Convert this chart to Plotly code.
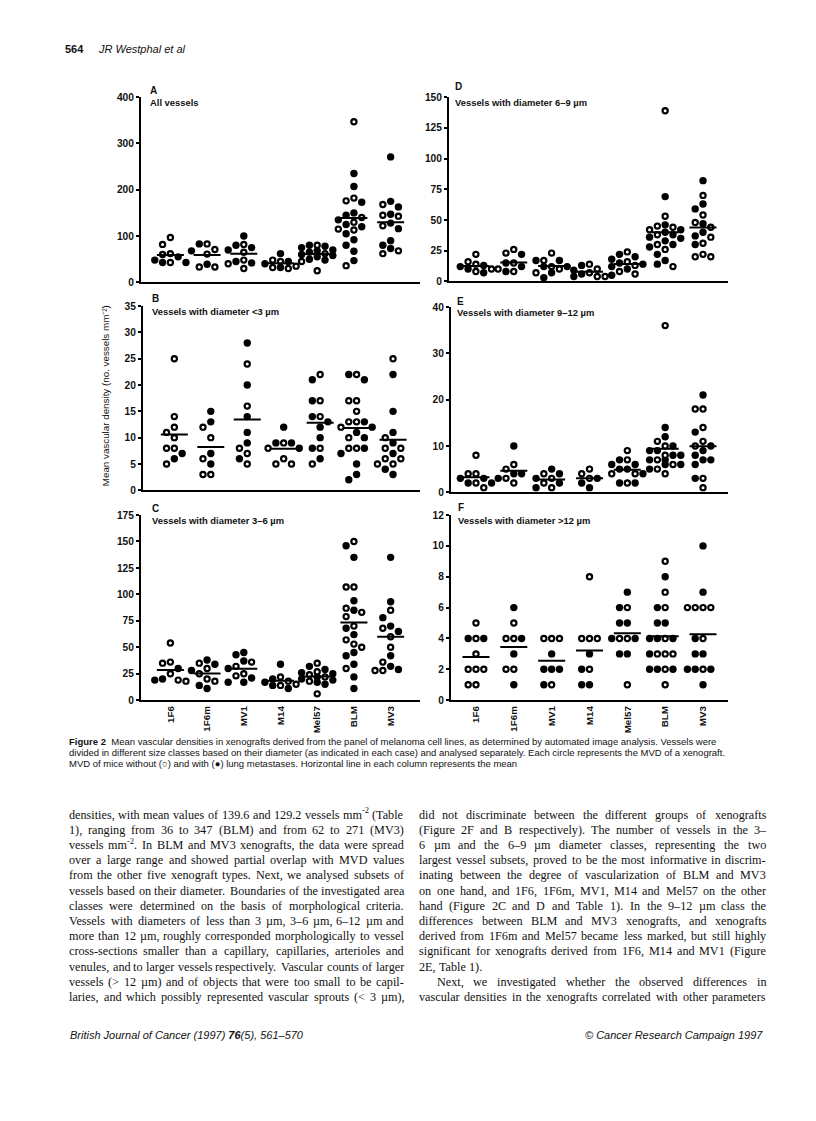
import plotly.graph_objects as go

W, H = 816, 1121

CATS = ["1F6", "1F6m", "MV1", "M14", "Mel57", "BLM", "MV3"]

# MVD per xenograft, one list per cell line (order of CATS)
# *_OPEN = mice without lung metastases, *_FILLED = mice with lung metastases
A_OPEN = [[97, 82, 62, 60, 43], [83, 71, 61, 33, 33], [82, 65, 48, 40, 30], [48, 45, 35, 32, 30],
          [80, 62, 45, 25], [347, 182, 176, 140, 130, 115, 113, 36], [168, 145, 143, 122, 68, 62]]
A_FILLED = [[55, 48, 43, 43], [83, 68, 39], [100, 80, 75, 70, 45, 42], [62, 45, 40, 32],
            [80, 78, 75, 70, 68, 65, 60, 58, 55, 50, 48],
            [235, 207, 173, 150, 145, 135, 125, 120, 105, 92, 80, 67, 47],
            [271, 175, 163, 147, 128, 116, 90, 80, 73]]

B_OPEN = [[25, 14, 12, 11, 10, 8, 8, 5], [12, 10, 6, 3, 3], [24, 16, 8, 7, 5], [9, 8, 6, 5, 5],
          [22, 17, 14, 8, 5], [22, 17, 17, 15, 13, 13, 12, 10, 8, 8], [25, 10, 8, 8, 6, 6, 5, 5]]
B_FILLED = [[7, 6], [15, 13, 7, 5], [28, 20, 14, 11, 9, 6], [12, 9, 9, 8],
            [21, 17, 14, 13, 12, 10, 8, 6], [22, 21, 13, 12, 11, 10, 8, 7, 5, 3, 2],
            [22, 15, 11, 9, 7, 4, 3]]

C_OPEN = [[54, 36, 35, 25, 19, 18], [35, 30, 25, 20, 18], [36, 32, 25, 23], [22, 18, 15, 14],
          [35, 27, 24, 22, 18, 6], [150, 107, 107, 87, 83, 79, 70, 57, 53, 50, 30],
          [85, 68, 60, 50, 36, 28, 28]]
C_FILLED = [[30, 20, 19], [38, 34, 28, 14, 11], [45, 43, 37, 30, 21, 17, 17], [34, 20, 17, 14, 11],
            [32, 29, 26, 25, 22, 20, 19, 17, 15], [146, 135, 94, 85, 68, 62, 45, 42, 34, 22, 11],
            [135, 93, 78, 70, 65, 42, 32, 29]]

D_OPEN = [[22, 16, 14, 10, 8], [26, 23, 15, 10, 8], [23, 17, 12, 10, 7], [14, 10, 7, 4, 4],
          [24, 16, 13, 8, 6], [139, 53, 45, 44, 42, 38, 30, 26, 12], [70, 54, 48, 44, 36, 31, 22, 20, 20]]
D_FILLED = [[13, 12, 10, 7], [22, 15, 12, 8], [17, 17, 12, 12, 7, 3], [13, 9, 6, 4],
            [22, 20, 18, 15, 14, 12, 10, 5], [69, 46, 42, 40, 38, 36, 35, 33, 30, 28, 22, 17, 14],
            [82, 63, 59, 47, 40, 37, 30]]

E_OPEN = [[8, 4, 4, 2, 1], [6, 5, 3, 2], [4, 3, 2, 1], [5, 4, 3], [9, 7, 4, 4, 2],
          [36, 11, 10, 8, 7, 6, 5, 4], [18, 18, 14, 11, 10, 3, 1]]
E_FILLED = [[3, 3, 2, 2], [10, 4, 4, 3], [5, 4, 3, 2, 1], [3, 2, 1], [7, 6, 6, 5, 5, 4, 2, 2],
            [14, 12, 10, 9, 9, 8, 8, 7, 7, 6, 6, 5], [21, 13, 10, 9, 8, 7, 7, 6, 3]]

F_OPEN = [[5, 4, 3, 2, 2, 2, 1, 1], [5, 4, 4, 2, 2], [4, 4, 4, 1], [8, 4, 4, 4, 2], [6, 4, 4, 1],
          [9, 7, 6, 4, 3, 3, 3, 2, 1], [6, 6, 6, 6, 4, 2]]
F_FILLED = [[4, 4], [6, 4, 3, 1], [3, 2, 2, 2, 1], [3, 2, 1, 1], [7, 6, 5, 5, 4, 4, 3, 3],
            [8, 6, 5, 5, 4, 4, 4, 3, 2, 2, 2], [10, 7, 4, 3, 3, 2, 2, 2, 1]]

CAPTION = [
    "<b>Figure 2</b>  Mean vascular densities in xenografts derived from the panel of melanoma cell lines, "
    "as determined by automated image analysis. Vessels were",
    "divided in different size classes based on their diameter (as indicated in each case) and analysed "
    "separately. Each circle represents the MVD of a xenograft.",
    "MVD of mice without (○) and with (●) lung metastases. Horizontal line in each column represents the mean",
]

# body text; a trailing "|" marks the last line of a paragraph (not justified),
# a leading ">" marks an indented first line
LEFT_COL = [
    "densities, with mean values of 139.6 and 129.2 vessels mm<sup>-2</sup> (Table",
    "1), ranging from 36 to 347 (BLM) and from 62 to 271 (MV3)",
    "vessels mm<sup>-2</sup>. In BLM and MV3 xenografts, the data were spread",
    "over a large range and showed partial overlap with MVD values",
    "from the other five xenograft types. Next, we analysed subsets of",
    "vessels based on their diameter. Boundaries of the investigated area",
    "classes were determined on the basis of morphological criteria.",
    "Vessels with diameters of less than 3 µm, 3–6 µm, 6–12 µm and",
    "more than 12 µm, roughly corresponded morphologically to vessel",
    "cross-sections smaller than a capillary, capillaries, arterioles and",
    "venules, and to larger vessels respectively. Vascular counts of larger",
    "vessels (&gt; 12 µm) and of objects that were too small to be capil-",
    "laries, and which possibly represented vascular sprouts (&lt; 3 µm),",
]

RIGHT_COL = [
    "did not discriminate between the different groups of xenografts",
    "(Figure 2F and B respectively). The number of vessels in the 3–",
    "6 µm and the 6–9 µm diameter classes, representing the two",
    "largest vessel subsets, proved to be the most informative in discrim-",
    "inating between the degree of vascularization of BLM and MV3",
    "on one hand, and 1F6, 1F6m, MV1, M14 and Mel57 on the other",
    "hand (Figure 2C and D and Table 1). In the 9–12 µm class the",
    "differences between BLM and MV3 xenografts, and xenografts",
    "derived from 1F6m and Mel57 became less marked, but still highly",
    "significant for xenografts derived from 1F6, M14 and MV1 (Figure",
    "2E, Table 1).|",
    ">Next, we investigated whether the observed differences in",
    "vascular densities in the xenografts correlated with other parameters",
]

SANS = "Liberation Sans, Arial, Helvetica, sans-serif"
SERIF = "Liberation Serif, Times New Roman, serif"
BODY_SIZE = 12.2

# Times / Liberation Serif advance widths (per 1000 em) used to justify the body text
TIMES = {" ": 250, ".": 250, ",": 250, "(": 333, ")": 333, "-": 333, "–": 500, ":": 278, ";": 278,
         ">": 564, "<": 564, "µ": 500}
TIMES.update(zip("abcdefghijklmnopqrstuvwxyz",
                 [444, 500, 444, 500, 444, 333, 500, 500, 278, 278, 500, 278, 778, 500, 500, 500, 500,
                  333, 389, 278, 500, 500, 722, 500, 500, 444]))
TIMES.update(zip("ABCDEFGHIJKLMNOPQRSTUVWXYZ",
                 [722, 667, 667, 722, 611, 556, 722, 722, 333, 389, 722, 611, 889, 722, 722, 556, 722,
                  667, 556, 611, 722, 722, 944, 722, 722, 611]))
TIMES.update({d: 500 for d in "0123456789"})

# panel boxes in page pixels: (left, right, top, bottom)
PANELS = [
    dict(letter="A", sub="All vessels", opn=A_OPEN, fil=A_FILLED, ymax=400, dtick=100,
         box=(133, 412, 85, 272), xr=(-0.8, 6.8), lab=(140, 78.5), labels=False),
    dict(letter="B", sub="Vessels with diameter &lt;3 µm", opn=B_OPEN, fil=B_FILLED, ymax=35, dtick=5,
         box=(135, 412, 296, 482), xr=(-0.86, 6.74), lab=(142, 288.5), labels=False),
    dict(letter="C", sub="Vessels with diameter 3–6 µm", opn=C_OPEN, fil=C_FILLED, ymax=175, dtick=25,
         box=(133, 412, 507, 694), xr=(-0.8, 6.8), lab=(142, 500), labels=True),
    dict(letter="D", sub="Vessels with diameter 6–9 µm", opn=D_OPEN, fil=D_FILLED, ymax=150, dtick=25,
         box=(441, 720, 85, 271), xr=(-0.71, 6.66), lab=(445, 74), labels=False),
    dict(letter="E", sub="Vessels with diameter 9–12 µm", opn=E_OPEN, fil=E_FILLED, ymax=40, dtick=10,
         box=(443, 720, 297, 484), xr=(-0.66, 6.66), lab=(447, 291), labels=False),
    dict(letter="F", sub="Vessels with diameter &gt;12 µm", opn=F_OPEN, fil=F_FILLED, ymax=12, dtick=2,
         box=(443, 720, 507, 694), xr=(-0.66, 6.66), lab=(448, 499), labels=True),
]


def px(x):
    return x / W


def py(y):
    return 1 - y / H


def swarm(opn, fil, ppu_y, step, thresh=7.8):
    """Spread points of one column sideways so markers don't overlap (max two steps out)."""
    pts = sorted([(v, 0) for v in opn] + [(v, 1) for v in fil], key=lambda t: (-t[0], t[1]))
    placed = []
    for v, k in pts:
        best, best_gap = 0, -1.0
        for c in (0, -1, 1, -2, 2):
            gaps = [abs(pv - v) * ppu_y for pv, pc, _ in placed if pc == c]
            gap = min(gaps) if gaps else 1e9
            if gap >= thresh:
                best = c
                break
            if gap > best_gap + 0.5:
                best, best_gap = c, gap
        placed.append((v, best, k))
    return [(v, c * step, k) for v, c, k in placed]


def measure(text, size):
    w, i = 0.0, 0
    while i < len(text):
        if text.startswith("&gt;", i):
            ch, i = ">", i + 4
        elif text.startswith("&lt;", i):
            ch, i = "<", i + 4
        else:
            ch, i = text[i], i + 1
        w += TIMES.get(ch, 500)
    return w * size / 1000


def segments(word):
    """Split a word into (text, is_superscript) pieces."""
    segs, rest = [], word
    while "<sup>" in rest:
        a, b = rest.split("<sup>", 1)
        s, rest = b.split("</sup>", 1)
        if a:
            segs.append((a, False))
        segs.append((s, True))
    if rest:
        segs.append((rest, False))
    return segs


def word_width(word):
    return sum(measure(t, BODY_SIZE * (0.7 if sup else 1)) for t, sup in segments(word))


def body_column(lines, left, right, y0, dy, indent=18):
    out = []
    for j, line in enumerate(lines):
        last = line.endswith("|")
        ind = line.startswith(">")
        line = line.strip("|>")
        words = line.split(" ")
        x0 = left + (indent if ind else 0)
        widths = [word_width(w_) for w_ in words]
        if last or len(words) < 2:
            gap = measure(" ", BODY_SIZE)
        else:
            gap = (right - x0 - sum(widths)) / (len(words) - 1)
        x = x0
        yl = y0 + dy * j
        for w_, wd in zip(words, widths):
            sx = x
            for t, sup in segments(w_):
                size = BODY_SIZE * (0.7 if sup else 1)
                out.append(dict(text=t, x=px(sx), y=py(yl - (4.2 if sup else 0)), xref="paper",
                                yref="paper", xanchor="left", yanchor="middle", showarrow=False,
                                borderpad=0, font=dict(family=SERIF, size=size, color="#111")))
                sx += measure(t, size)
            x += wd + gap
    return out


fig = go.Figure()
annotations = []
layout = {}

for i, p in enumerate(PANELS):
    sfx = "" if i == 0 else str(i + 1)
    xa, ya = "x" + sfx, "y" + sfx
    left, right, top, bot = p["box"]
    ppu_x = (right - left) / (p["xr"][1] - p["xr"][0])
    ppu_y = (bot - top) / p["ymax"]
    step = 7.8 / ppu_x
    half = 13.5 / ppu_x

    ox, oy, fx, fy, mx, my = [], [], [], [], [], []
    for ci in range(len(CATS)):
        for v, dx, k in swarm(p["opn"][ci], p["fil"][ci], ppu_y, step):
            if k == 0:
                ox.append(ci + dx)
                oy.append(v)
            else:
                fx.append(ci + dx)
                fy.append(v)
        vals = p["opn"][ci] + p["fil"][ci]
        m = sum(vals) / len(vals)
        mx += [ci - half, ci + half, None]
        my += [m, m, None]

    fig.add_trace(go.Scatter(x=fx, y=fy, mode="markers", xaxis=xa, yaxis=ya, showlegend=False,
                             cliponaxis=False,
                             marker=dict(size=7.4, color="black", line=dict(width=0))))
    fig.add_trace(go.Scatter(x=ox, y=oy, mode="markers", xaxis=xa, yaxis=ya, showlegend=False,
                             cliponaxis=False,
                             marker=dict(size=5.2, color="white", line=dict(color="black", width=2.2))))
    fig.add_trace(go.Scatter(x=mx, y=my, mode="lines", line=dict(color="black", width=2),
                             xaxis=xa, yaxis=ya, showlegend=False, hoverinfo="skip"))

    layout["xaxis" + sfx] = dict(
        domain=[px(left), px(right)], anchor=ya, range=list(p["xr"]),
        tickmode="array", tickvals=list(range(len(CATS))), ticktext=CATS,
        showticklabels=p["labels"], tickangle=-90, ticks="",
        tickfont=dict(family=SANS, size=9.8, color="#111", weight="bold"),
        showline=True, linecolor="black", linewidth=2, showgrid=False, zeroline=False,
    )
    layout["yaxis" + sfx] = dict(
        domain=[py(bot), py(top)], anchor=xa, range=[0, p["ymax"]],
        tickmode="linear", tick0=0, dtick=p["dtick"],
        ticks="outside", ticklen=3, tickwidth=1.5, tickcolor="black",
        tickfont=dict(family=SANS, size=10.2, color="#111", weight="bold"),
        showline=True, linecolor="black", linewidth=2, showgrid=False, zeroline=False,
    )

    lx, ly = p["lab"]
    annotations.append(dict(text=p["letter"], x=px(lx), y=py(ly), xref="paper", yref="paper",
                            xanchor="left", yanchor="middle", showarrow=False,
                            font=dict(family=SANS, size=10, color="#111", weight="bold")))
    annotations.append(dict(text=p["sub"], x=px(lx), y=py(top + 5.3), xref="paper",
                            yref="paper", xanchor="left", yanchor="middle", showarrow=False,
                            font=dict(family=SANS, size=9.4, color="#111", weight="bold")))

# shared y-axis title
annotations.append(dict(text="Mean vascular density (no. vessels mm⁻²)", textangle=-90,
                        x=px(97), y=py(387), xref="paper", yref="paper", xanchor="center",
                        yanchor="middle", showarrow=False,
                        font=dict(family=SANS, size=9.8, color="#111")))

# running head
annotations.append(dict(text="564", x=px(55), y=py(36.5), xref="paper", yref="paper",
                        xanchor="left", yanchor="middle", showarrow=False,
                        font=dict(family=SANS, size=11, color="#111", weight="bold")))
annotations.append(dict(text="JR Westphal et al", x=px(88), y=py(36.5), xref="paper", yref="paper",
                        xanchor="left", yanchor="middle", showarrow=False,
                        font=dict(family=SANS, size=11, color="#111", style="italic")))

# caption
for j, line in enumerate(CAPTION):
    annotations.append(dict(text=line, x=px(59), y=py(736 + 11 * j), xref="paper", yref="paper",
                            xanchor="left", yanchor="middle", showarrow=False,
                            font=dict(family=SANS, size=9.5, color="#111")))

# body text, two justified columns
annotations += body_column(LEFT_COL, 60, 395, 809.5, 15.35)
annotations += body_column(RIGHT_COL, 410, 757, 809.5, 15.35)

# footer
annotations.append(dict(text="British Journal of Cancer (1997) <b>76</b>(5), 561–570", x=px(60),
                        y=py(1032), xref="paper", yref="paper", xanchor="left", yanchor="middle",
                        showarrow=False, font=dict(family=SANS, size=11, color="#111", style="italic")))
annotations.append(dict(text="© Cancer Research Campaign 1997", x=px(757), y=py(1032),
                        xref="paper", yref="paper", xanchor="right", yanchor="middle",
                        showarrow=False, font=dict(family=SANS, size=11, color="#111", style="italic")))

fig.update_layout(
    width=W, height=H, margin=dict(l=0, r=0, t=0, b=0),
    paper_bgcolor="white", plot_bgcolor="white",
    annotations=annotations, showlegend=False,
    **layout,
)

fig.write_html("out.html")
